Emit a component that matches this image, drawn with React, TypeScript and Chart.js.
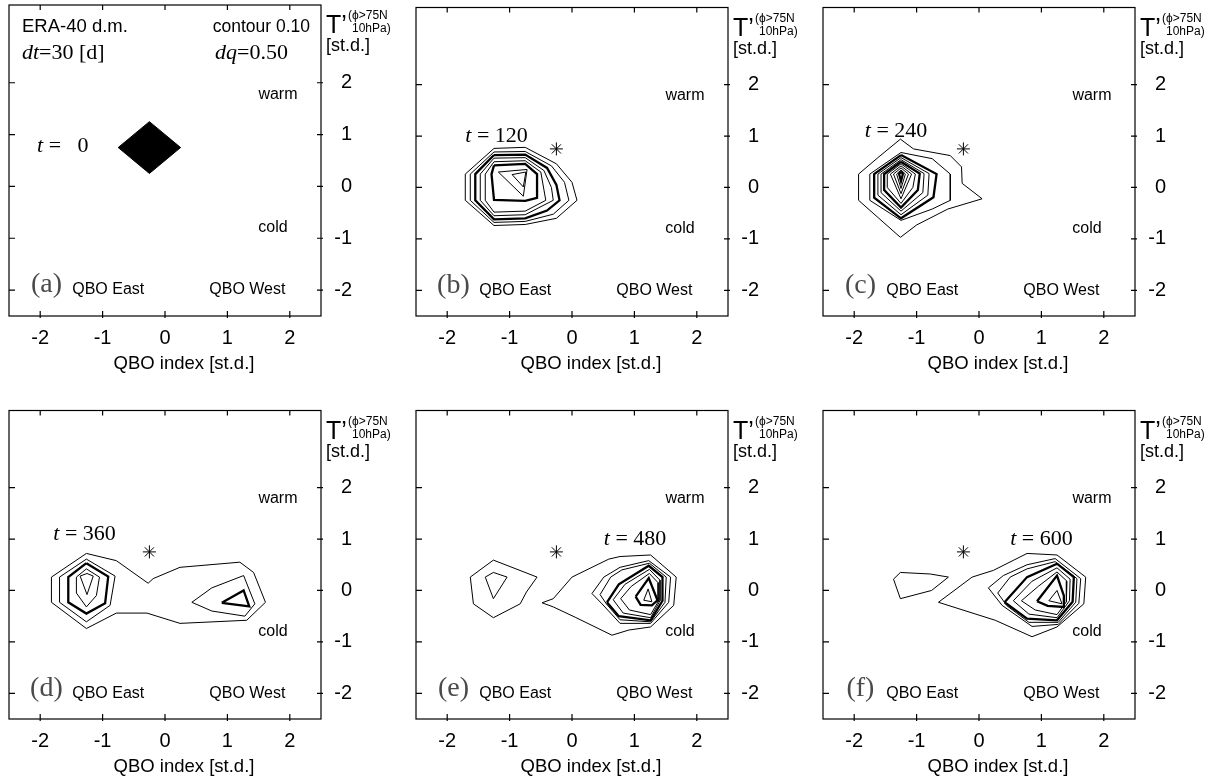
import { useEffect, useRef } from "react";
import { Chart, registerables } from "chart.js";

Chart.register(...registerables);

type Pt = [number, number];

// axis ticks (standardised units)
const xTicks = [-2, -1, 0, 1, 2];
const yTicks = [-2, -1, 0, 1, 2];

// panel metadata
const panelLetters = ["a", "b", "c", "d", "e", "f"];
const lagDays = [0, 120, 240, 360, 480, 600];
const startState: Pt = [-0.25, 0.75];
const timeStep = 30;
const binWidth = 0.5;
const contourInterval = 0.1;

// contour polygons of the probability density, outermost first
const contoursA: Pt[][] = [
  [[-0.75, 0.75], [-0.25, 1.25], [0.25, 0.75], [-0.25, 0.25]],
];

const contoursB: Pt[][] = [
  [[-1.25, 0.76], [-0.75, 0.78], [-0.25, 0.46], [0.0, 0.1], [0.08, -0.25], [-0.25, -0.6], [-0.75, -0.72], [-1.25, -0.74], [-1.71, -0.25], [-1.71, 0.26]],
  [[-1.25, 0.69], [-0.75, 0.7], [-0.33, 0.42], [-0.12, 0.1], [-0.05, -0.25], [-0.3, -0.52], [-0.75, -0.66], [-1.25, -0.68], [-1.63, -0.25], [-1.63, 0.26]],
  [[-1.25, 0.63], [-0.75, 0.64], [-0.4, 0.38], [-0.25, 0.05], [-0.2, -0.25], [-0.4, -0.45], [-0.75, -0.6], [-1.25, -0.62], [-1.55, -0.25], [-1.55, 0.26]],
  [[-1.25, 0.57], [-0.75, 0.58], [-0.45, 0.33], [-0.33, 0.0], [-0.3, -0.25], [-0.75, -0.53], [-1.25, -0.55], [-1.47, -0.25], [-1.47, 0.26]],
  [[-1.25, 0.5], [-0.75, 0.52], [-0.5, 0.3], [-0.42, -0.25], [-0.75, -0.46], [-1.25, -0.48], [-1.39, -0.25], [-1.39, 0.26]],
  [[-1.25, 0.43], [-0.75, 0.46], [-0.56, 0.26], [-0.56, -0.2], [-0.75, -0.26], [-1.25, -0.24], [-1.29, 0.26]],
  [[-1.18, 0.3], [-0.72, 0.35], [-0.78, -0.17]],
  [[-0.96, 0.25], [-0.74, 0.3], [-0.78, 0.01]],
];

const contoursC: Pt[][] = [
  [[-1.26, 0.94], [-1.05, 0.75], [-0.46, 0.62], [-0.28, 0.4], [-0.27, 0.08], [0.05, -0.22], [-0.5, -0.42], [-1.0, -0.73], [-1.26, -0.97], [-1.93, -0.25], [-1.93, 0.26], [-1.62, 0.58]],
  [[-1.25, 0.68], [-0.75, 0.56], [-0.46, 0.26], [-0.46, -0.25], [-0.75, -0.42], [-1.25, -0.64], [-1.75, -0.25], [-1.75, 0.26]],
  [[-1.25, 0.63], [-0.68, 0.26], [-0.73, -0.19], [-1.25, -0.6], [-1.68, -0.2], [-1.68, 0.26]],
  [[-1.25, 0.58], [-0.8, 0.27], [-0.82, -0.15], [-1.25, -0.53], [-1.62, -0.15], [-1.62, 0.26]],
  [[-1.25, 0.54], [-0.88, 0.27], [-0.9, -0.1], [-1.25, -0.46], [-1.57, -0.1], [-1.57, 0.26]],
  [[-1.25, 0.5], [-0.95, 0.27], [-0.98, -0.05], [-1.25, -0.39], [-1.52, -0.05], [-1.52, 0.26]],
  [[-1.25, 0.46], [-1.02, 0.26], [-1.06, 0.0], [-1.25, -0.31], [-1.47, 0.0], [-1.47, 0.26]],
  [[-1.25, 0.42], [-1.08, 0.26], [-1.25, -0.22], [-1.42, 0.26]],
  [[-1.25, 0.38], [-1.13, 0.26], [-1.25, -0.12], [-1.37, 0.26]],
  [[-1.25, 0.34], [-1.18, 0.26], [-1.25, -0.02], [-1.32, 0.26]],
  [[-1.25, 0.31], [-1.22, 0.26], [-1.25, 0.12], [-1.28, 0.26]],
];

const contoursD: Pt[][] = [
  [[-1.26, 0.72], [-0.78, 0.58], [-0.27, 0.14], [-0.19, 0.23], [0.24, 0.45], [1.2, 0.55], [1.42, 0.35], [1.61, -0.23], [1.31, -0.58], [0.24, -0.64], [-0.29, -0.44], [-0.78, -0.44], [-1.26, -0.74], [-1.82, -0.23], [-1.82, 0.26]],
  [[-1.26, 0.61], [-0.8, 0.28], [-0.88, -0.29], [-1.26, -0.61], [-1.69, -0.23], [-1.69, 0.26]],
  [[-1.26, 0.53], [-0.91, 0.27], [-0.96, -0.25], [-1.26, -0.45], [-1.55, -0.23], [-1.55, 0.26]],
  [[-1.26, 0.42], [-1.05, 0.26], [-1.1, -0.1], [-1.26, -0.32], [-1.42, -0.05], [-1.42, 0.26]],
  [[-1.36, 0.28], [-1.25, 0.33], [-1.15, 0.28], [-1.25, -0.08]],
  [[0.43, -0.23], [0.75, 0.05], [1.26, 0.29], [1.44, -0.26], [1.28, -0.5], [0.75, -0.4]],
  [[0.91, -0.24], [1.26, 0.0], [1.35, -0.31]],
];

const contoursE: Pt[][] = [
  [[-1.26, 0.59], [-0.56, 0.26], [-0.73, -0.03], [-0.83, -0.26], [-1.26, -0.53], [-1.58, -0.26], [-1.63, 0.26]],
  [[-1.39, 0.26], [-1.26, 0.35], [-1.04, 0.26], [-1.26, -0.16]],
  [[-0.48, -0.24], [-0.3, -0.16], [0.0, 0.26], [0.59, 0.61], [0.77, 0.66], [1.26, 0.69], [1.67, 0.26], [1.63, -0.29], [1.26, -0.71], [0.91, -0.77], [0.64, -0.87], [0.05, -0.52], [-0.3, -0.32]],
  [[0.32, -0.06], [0.51, 0.26], [0.77, 0.45], [1.23, 0.58], [1.58, 0.26], [1.55, -0.23], [1.26, -0.64], [0.77, -0.64], [0.48, -0.26]],
  [[0.45, -0.08], [0.62, 0.26], [0.8, 0.4], [1.24, 0.53], [1.51, 0.26], [1.49, -0.23], [1.26, -0.61], [0.77, -0.57], [0.55, -0.26]],
  [[0.56, -0.23], [0.75, 0.12], [1.23, 0.48], [1.45, 0.26], [1.45, -0.2], [1.26, -0.58], [0.75, -0.5]],
  [[0.66, -0.18], [0.85, 0.12], [1.24, 0.41], [1.41, 0.2], [1.41, -0.2], [1.26, -0.53], [0.82, -0.44]],
  [[0.78, -0.16], [0.95, 0.08], [1.24, 0.33], [1.38, 0.15], [1.38, -0.22], [1.26, -0.47], [0.92, -0.38]],
  [[1.02, -0.12], [1.23, 0.24], [1.37, -0.19], [1.28, -0.29], [1.1, -0.28]],
  [[1.15, -0.19], [1.22, 0.03], [1.28, -0.22]],
];

const contoursF: Pt[][] = [
  [[-1.26, 0.35], [-0.78, 0.32], [-0.49, 0.26], [-0.76, 0.0], [-1.26, -0.16], [-1.37, 0.22]],
  [[-0.65, -0.23], [-0.11, 0.26], [0.23, 0.39], [0.77, 0.72], [1.25, 0.69], [1.71, 0.26], [1.68, -0.26], [1.25, -0.71], [0.85, -0.9], [0.26, -0.58]],
  [[0.15, 0.05], [0.39, 0.29], [0.77, 0.5], [1.22, 0.62], [1.63, 0.23], [1.6, -0.25], [1.27, -0.66], [0.85, -0.7], [0.37, -0.29]],
  [[0.3, -0.05], [0.5, 0.26], [0.77, 0.42], [1.22, 0.56], [1.57, 0.23], [1.55, -0.23], [1.27, -0.62], [0.8, -0.62], [0.45, -0.3]],
  [[0.41, -0.23], [0.77, 0.26], [1.25, 0.52], [1.52, 0.26], [1.5, -0.22], [1.25, -0.58], [0.77, -0.55]],
  [[0.55, -0.2], [0.85, 0.18], [1.25, 0.44], [1.46, 0.22], [1.45, -0.2], [1.25, -0.53], [0.8, -0.46]],
  [[0.68, -0.2], [0.95, 0.08], [1.25, 0.36], [1.41, 0.18], [1.4, -0.22], [1.25, -0.47], [0.9, -0.38]],
  [[0.93, -0.21], [1.25, 0.29], [1.36, -0.1], [1.36, -0.32], [1.1, -0.3]],
  [[1.12, -0.2], [1.25, 0.0], [1.33, -0.26]],
];

const panelContours = [contoursA, contoursB, contoursC, contoursD, contoursE, contoursF];

// which contour of each panel is drawn with a heavy pen
const heavyContours: number[][] = [[], [2, 5], [2, 5, 10], [2, 6], [5, 8], [4, 7]];

// left start of the "t = ..." label, in data units
const lagLabelAnchor: Pt[] = [
  [-2.05, 0.77], [-1.71, 1.0], [-1.83, 1.1], [-1.79, 1.1], [0.51, 1.0], [0.5, 1.0],
];

const SANS = '"Liberation Sans", Arial, Helvetica, sans-serif';
const SERIF = '"Liberation Serif", "Times New Roman", serif';

const CANVAS_W = 406;
const CANVAS_H = 378;

type Part = { text: string; font: string };

function drawParts(ctx: CanvasRenderingContext2D, parts: Part[], x: number, y: number) {
  let cx = x;
  for (const p of parts) {
    ctx.font = p.font;
    ctx.fillText(p.text, cx, y);
    cx += ctx.measureText(p.text).width;
  }
}

function makeDecorations(index: number) {
  return {
    id: "panelDecorations",
    afterDatasetsDraw(chart: any) {
      const { ctx, chartArea } = chart;
      const { left, right, top, bottom } = chartArea;
      const xs = chart.scales.x;
      const ys = chart.scales.y;
      ctx.save();
      ctx.strokeStyle = "#000";
      ctx.lineWidth = 1.2;
      ctx.strokeRect(left, top, right - left, bottom - top);
      ctx.beginPath();
      for (const v of xTicks) {
        const px = xs.getPixelForValue(v);
        ctx.moveTo(px, top);
        ctx.lineTo(px, top + 5);
        ctx.moveTo(px, bottom - 5);
        ctx.lineTo(px, bottom + 2);
      }
      for (const v of yTicks) {
        const py = ys.getPixelForValue(v);
        ctx.moveTo(left, py);
        ctx.lineTo(left + 6, py);
        ctx.moveTo(right - 4, py);
        ctx.lineTo(right + 2, py);
      }
      ctx.stroke();
      ctx.restore();
    },
    afterDraw(chart: any) {
      const { ctx, chartArea } = chart;
      const { left, right, top, bottom } = chartArea;
      const xs = chart.scales.x;
      const ys = chart.scales.y;
      const X = (v: number) => xs.getPixelForValue(v);
      const Y = (v: number) => ys.getPixelForValue(v);
      ctx.save();
      ctx.fillStyle = "#000";
      ctx.textBaseline = "middle";

      // regime labels
      ctx.textAlign = "center";
      ctx.font = `16px ${SANS}`;
      ctx.fillText("warm", X(1.81), Y(1.78));
      ctx.fillText("cold", X(1.73), Y(-0.8));
      ctx.fillText("QBO East", X(-0.91), Y(-2.0));
      ctx.fillText("QBO West", X(1.32), Y(-2.0));

      // panel letter
      ctx.fillStyle = "#4a4a4a";
      ctx.font = `28px ${SERIF}`;
      ctx.fillText(`(${panelLetters[index]})`, X(-1.9), Y(-1.9));
      ctx.fillStyle = "#000";

      // lag label
      ctx.textAlign = "left";
      const [ax, ay] = lagLabelAnchor[index];
      drawParts(
        ctx,
        [
          { text: "t", font: `italic 22px ${SERIF}` },
          { text: ` = ${String(lagDays[index]).padStart(3, " ")}`, font: `22px ${SERIF}` },
        ],
        X(ax),
        Y(ay)
      );

      // header of the first panel
      if (index === 0) {
        ctx.font = `18.5px ${SANS}`;
        ctx.fillText("ERA-40 d.m.", left + 13, top + 22);
        ctx.textAlign = "right";
        ctx.font = `17.5px ${SANS}`;
        ctx.fillText(`contour ${contourInterval.toFixed(2)}`, right - 11, top + 22);
        ctx.textAlign = "left";
        drawParts(
          ctx,
          [
            { text: "dt", font: `italic 22px ${SERIF}` },
            { text: `=${timeStep} [d]`, font: `22px ${SERIF}` },
          ],
          left + 13,
          top + 48
        );
        drawParts(
          ctx,
          [
            { text: "dq", font: `italic 22px ${SERIF}` },
            { text: `=${binWidth.toFixed(2)}`, font: `22px ${SERIF}` },
          ],
          left + 206,
          top + 48
        );
      }

      // right axis title
      ctx.textBaseline = "alphabetic";
      ctx.textAlign = "left";
      ctx.font = `25px ${SANS}`;
      ctx.fillText("T\u2019", right + 5, top + 28);
      ctx.font = `12px ${SANS}`;
      ctx.fillText("(\u03d5>75N", right + 27, top + 14);
      ctx.fillText("10hPa)", right + 31, top + 27);
      ctx.font = `18px ${SANS}`;
      ctx.fillText("[st.d.]", right + 5, top + 46);

      // bottom axis title
      ctx.textAlign = "center";
      ctx.textBaseline = "middle";
      ctx.font = `18.5px ${SANS}`;
      ctx.fillText("QBO index [st.d.]", (left + right) / 2 + 19, bottom + 47.5);
      ctx.restore();
    },
  };
}

function buildConfig(index: number): any {
  const contours = panelContours[index];
  const heavy = heavyContours[index];
  const datasets: any[] = contours.map((poly, i) => ({
    data: [...poly, poly[0]].map(([x, y]) => ({ x, y })),
    showLine: true,
    borderColor: "#000",
    backgroundColor: "#000",
    borderWidth: heavy.includes(i) ? 2.3 : 1,
    pointRadius: 0,
    tension: 0,
    fill: index === 0 ? "shape" : false,
  }));
  if (index > 0) {
    datasets.push({
      data: [{ x: startState[0], y: startState[1] }],
      showLine: false,
      pointStyle: "star",
      pointRadius: 6.5,
      borderColor: "#000",
      borderWidth: 1,
      backgroundColor: "#000",
    });
  }
  const tickFont = { family: SANS, size: 20 };
  return {
    type: "scatter",
    data: { datasets },
    options: {
      responsive: false,
      maintainAspectRatio: false,
      animation: false,
      events: [],
      layout: { padding: { left: 9, top: 5, right: 54, bottom: 0 } },
      plugins: { legend: { display: false }, tooltip: { enabled: false } },
      scales: {
        x: {
          type: "linear",
          position: "bottom",
          min: -2.5,
          max: 2.5,
          afterBuildTicks: (s: any) => {
            s.ticks = xTicks.map((value) => ({ value }));
          },
          afterFit: (s: any) => {
            s.height = 62;
            s.paddingLeft = 0;
            s.paddingRight = 0;
          },
          grid: { display: false, drawTicks: false },
          border: { display: false },
          ticks: {
            color: "#000",
            font: tickFont,
            padding: 10,
            maxRotation: 0,
            autoSkip: false,
            callback: (v: number) => String(v),
          },
        },
        y: {
          type: "linear",
          position: "right",
          min: -2.5,
          max: 3.5,
          afterBuildTicks: (s: any) => {
            s.ticks = yTicks.map((value) => ({ value }));
          },
          afterFit: (s: any) => {
            s.width = 31;
            s.paddingTop = 0;
            s.paddingBottom = 0;
          },
          grid: { display: false, drawTicks: false },
          border: { display: false },
          ticks: {
            color: "#000",
            font: tickFont,
            padding: 4,
            crossAlign: "far",
            autoSkip: false,
            callback: (v: number) => String(v),
          },
        },
      },
    },
    plugins: [makeDecorations(index)],
  };
}

function Panel({ index }: { index: number }) {
  const ref = useRef<HTMLCanvasElement>(null);
  useEffect(() => {
    const chart = new Chart(ref.current as HTMLCanvasElement, buildConfig(index));
    return () => chart.destroy();
  }, [index]);
  const col = index % 3;
  const row = Math.floor(index / 3);
  return (
    <canvas
      ref={ref}
      width={CANVAS_W}
      height={CANVAS_H}
      style={{
        position: "absolute",
        left: col * 407,
        top: row * 403,
        width: CANVAS_W,
        height: CANVAS_H,
      }}
    />
  );
}

export default function App() {
  return (
    <div
      style={{
        position: "absolute",
        left: 0,
        top: 0,
        width: 1220,
        height: 781,
        background: "#fff",
        overflow: "hidden",
      }}
    >
      {panelLetters.map((_, i) => (
        <Panel key={i} index={i} />
      ))}
    </div>
  );
}
